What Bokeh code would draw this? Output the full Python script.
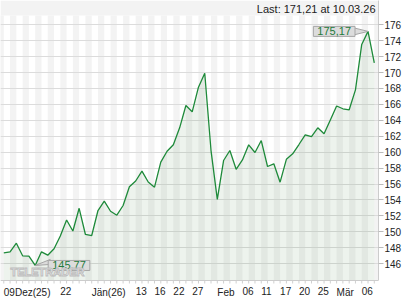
import numpy as np
from bokeh.plotting import figure
from bokeh.models import Range1d, FixedTicker, Label, Span
from bokeh.core.properties import value
from bokeh.embed import file_html
from bokeh.resources import INLINE

# ---------------- data ----------------
prices = [147.36, 147.48, 148.56, 146.98, 146.95, 145.77, 147.48, 147.06, 147.86, 149.47,
          151.48, 150.10, 152.95, 149.66, 149.53, 152.67, 153.86, 152.58, 152.08, 153.30,
          155.65, 156.38, 157.61, 156.25, 155.60, 158.74, 160.11, 160.94, 163.06, 165.86,
          165.07, 168.16, 169.92, 160.20, 154.08, 158.95, 160.21, 157.85, 159.02, 160.92,
          159.96, 161.46, 158.20, 158.54, 156.23, 159.10, 159.79, 160.96, 162.18, 161.94,
          163.06, 162.31, 164.04, 165.80, 165.45, 165.32, 167.83, 173.53, 175.17, 171.21]
tick_idx = [0, 9, 14, 21, 24, 27, 30, 34, 38, 41, 44, 47, 50, 53, 57]
tick_labels = ["09Dez(25)", "22", "Jän(26)", "13", "16", "22", "27", "Feb",
               "06", "11", "17", "20", "25", "Mär", "06"]
y_ticks = list(range(146, 177, 2))
last_text = "Last: 171,21 at 10.03.26"
max_text = "175,17"
min_text = "145,77"

# ---------------- layout ----------------
W, H = 420, 300
B_RIGHT = 42
FW, FH = W - B_RIGHT, H
PLOT_BOTTOM_PX = 280          # bottom of the chart area inside the frame
y_top, y_bot = 179.05, 143.88  # values at frame top and at the chart-area bottom
xr = Range1d(-0.525, 59.67)
yr = Range1d(y_top - (y_top - y_bot) * FH / PLOT_BOTTOM_PX, y_top)
ux = (xr.end - xr.start) / FW
uy = (yr.end - yr.start) / FH
yb = y_bot

n = len(prices)
idx = np.arange(n)

p = figure(width=W, height=H, x_range=xr, y_range=yr, output_backend="svg",
           toolbar_location=None, y_axis_location="right", x_axis_location=None,
           min_border_left=0, min_border_top=0, min_border_right=B_RIGHT,
           min_border_bottom=0)
p.outline_line_color = None
p.background_fill_color = "white"
p.border_fill_color = "white"

BAND = "#f3f3f3"
band_bottom = yr.end - 15 * uy

# vertical stripes (alternating day intervals)
lefts = np.arange(-1, n, 2)
p.quad(left=lefts, right=lefts + 1, bottom=yb, top=band_bottom,
       fill_color=BAND, line_color=None, level="image")
# top band
p.quad(left=[xr.start], right=[xr.end], bottom=[band_bottom], top=[yr.end],
       fill_color=BAND, line_color=None, level="image")

# grid
p.xgrid.visible = False
p.ygrid.ticker = FixedTicker(ticks=y_ticks)
p.ygrid.grid_line_color = "#dcdcdc"

# area + line
p.varea(x=idx, y1=yb, y2=prices, fill_color="#3c7a3c", fill_alpha=0.09)
p.line(idx, prices, line_color="#1e8a3a", line_width=1.3)

# y axis (right)
ya = p.yaxis[0]
ya.ticker = FixedTicker(ticks=y_ticks)
ya.bounds = (yb, yr.end)
ya.axis_line_color = "#cccccc"
ya.major_tick_line_color = "#bbbbbb"
ya.major_tick_in = 0
ya.major_tick_out = 5
ya.minor_tick_line_color = None
ya.major_label_standoff = 1
ya.major_label_text_font = "Liberation Sans"
ya.major_label_text_font_size = "10px"
ya.major_label_text_color = "#222222"

# x axis: line, day ticks and left-aligned labels
p.add_layout(Span(location=yb, dimension="width", line_color="#cccccc", line_width=1))
p.segment(x0=idx, y0=yb, x1=idx, y1=yb - 3 * uy, line_color="#d0d0d0", line_width=1)
p.text(x=tick_idx, y=[yb - 6 * uy] * len(tick_idx), text=tick_labels,
       text_align="left", text_baseline="top",
       text_font=value("Liberation Sans"), text_font_size="10px", text_color="#222222")

# last value text in top band
p.add_layout(Label(x=xr.end, y=yr.end, text=last_text, text_align="right",
                   text_baseline="middle", x_offset=-3, y_offset=-8,
                   text_font="Liberation Sans", text_font_size="11px",
                   text_color="#222222"))

# max / min callouts
imax = int(np.argmax(prices)); vmax = prices[imax]
imin = int(np.argmin(prices)); vmin = prices[imin]
BOX_FILL, BOX_LINE, TXT = "#dcdcdc", "#a6a6a6", "#237a3b"

p.patch([imax, imax - 14 * ux, imax - 14 * ux], [vmax, vmax + 3.5 * uy, vmax - 3.5 * uy],
        fill_color=BOX_FILL, line_color=BOX_LINE, line_width=1)
p.patch([imin, imin + 15 * ux, imin + 15 * ux], [vmin, vmin + 6 * uy, vmin + 1 * uy],
        fill_color=BOX_FILL, line_color=BOX_LINE, line_width=1)

lab_kw = dict(text_baseline="middle", text_font="Liberation Sans", text_font_size="11px",
              text_color=TXT, background_fill_color=BOX_FILL, border_line_color=BOX_LINE,
              padding=(4, 1))
p.add_layout(Label(x=imax, y=vmax, text=max_text, text_align="right", x_offset=-13, **lab_kw))
p.add_layout(Label(x=imin, y=vmin, text=min_text, text_align="left", x_offset=13, **lab_kw))

# watermark
wm_kw = dict(text_font="Liberation Sans", text_font_size="11px", text_font_style="bold",
             text_color="#d2d2d2")
if "text_outline_color" in Label.properties():
    wm_kw.update(text_color="white", text_outline_color="#bdbdbd")
p.add_layout(Label(x=xr.start, y=yb, text="TELETRADER", text_align="left",
                   text_baseline="bottom", x_offset=10, y_offset=3, **wm_kw))

open("out.html", "w", encoding="utf-8").write(file_html(p, INLINE))
